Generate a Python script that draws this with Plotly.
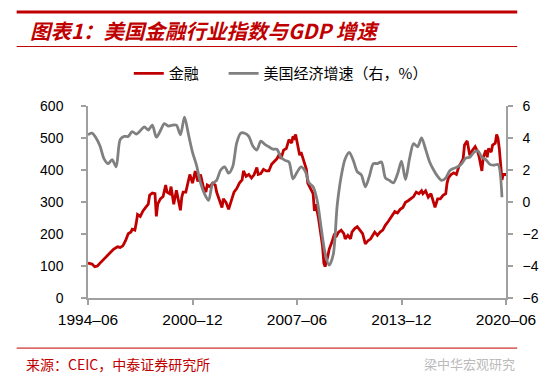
import plotly.graph_objects as go

# ---------------- data ----------------
FIN_DATES = [
    "1994-06","1994-09","1994-11","1995-01","1995-03","1995-06","1995-08","1995-11",
    "1996-01","1996-04","1996-06","1996-08","1996-10","1996-12","1997-02","1997-03",
    "1997-05","1997-06","1997-07","1997-09","1997-11","1998-01","1998-03","1998-04",
    "1998-06","1998-08","1998-09","1998-10","1998-12","1999-02","1999-04","1999-05",
    "1999-07","1999-08","1999-10","1999-12","2000-01","2000-03","2000-04","2000-05",
    "2000-07","2000-09","2000-10","2000-12","2001-02","2001-04","2001-06","2001-08",
    "2001-10","2001-11","2002-01","2002-03","2002-05","2002-06","2002-08","2002-10",
    "2002-11","2003-01","2003-03","2003-05","2003-07","2003-09","2003-11","2004-01",
    "2004-02","2004-04","2004-06","2004-08","2004-10","2004-12","2005-01","2005-03",
    "2005-05","2005-07","2005-09","2005-11","2006-01","2006-03","2006-05","2006-06",
    "2006-08","2006-10","2006-12","2007-02","2007-03","2007-04","2007-05","2007-06",
    "2007-08","2007-09","2007-11","2008-01","2008-02","2008-04","2008-06","2008-07",
    "2008-08","2008-10","2008-12","2009-01","2009-02","2009-03","2009-05","2009-06",
    "2009-08","2009-10","2009-11","2010-01","2010-03","2010-05","2010-06","2010-08",
    "2010-10","2010-11","2011-01","2011-03","2011-05","2011-07","2011-09","2011-11",
    "2012-01","2012-03","2012-04","2012-06","2012-08","2012-10","2012-12","2013-02",
    "2013-03","2013-05","2013-07","2013-09","2013-11","2014-01","2014-03","2014-05",
    "2014-07","2014-09","2014-11","2015-01","2015-03","2015-04","2015-06","2015-08",
    "2015-10","2015-11","2016-01","2016-03","2016-05","2016-07","2016-09","2016-10",
    "2016-11","2017-01","2017-03","2017-05","2017-07","2017-08","2017-10","2017-11",
    "2018-01","2018-02","2018-03","2018-05","2018-07","2018-09","2018-10","2018-12",
    "2019-01","2019-03","2019-04","2019-05","2019-07","2019-08","2019-10","2019-11",
    "2019-12","2020-01","2020-02","2020-03","2020-04","2020-06",
]
FIN_VALUES = [
    109,106,98,100,109,122,133,144,
    152,160,158,163,179,201,206,215,
    212,234,261,255,272,283,293,321,
    328,326,255,293,310,317,353,331,
    326,348,293,337,315,274,315,331,
    331,375,386,359,397,364,386,348,
    331,353,348,359,353,331,304,283,
    310,299,277,304,331,342,359,369,
    397,380,386,375,386,408,386,389,
    402,397,397,418,426,435,451,435,
    462,467,495,484,505,500,511,489,
    446,456,429,402,359,342,326,272,
    293,250,185,163,109,98,130,152,
    174,201,190,206,212,201,185,196,
    185,206,217,223,212,201,169,179,
    185,201,206,196,206,212,228,239,
    245,261,270,266,277,283,299,304,
    310,317,331,326,335,326,335,315,
    326,310,283,310,310,321,326,359,
    375,386,391,386,413,418,435,478,
    491,467,446,462,473,456,440,397,
    440,462,440,467,456,478,484,511,
    500,467,418,369,386,386,
]

GDP_DATES = [
    "1994-06","1994-09","1994-12","1995-03","1995-06","1995-09","1995-12","1996-03",
    "1996-06","1996-09","1996-12","1997-03","1997-06","1997-09","1997-12","1998-03",
    "1998-06","1998-09","1998-12","1999-03","1999-06","1999-09","1999-12","2000-03",
    "2000-06","2000-09","2000-12","2001-03","2001-06","2001-09","2001-12","2002-03",
    "2002-06","2002-09","2002-12","2003-03","2003-06","2003-09","2003-12","2004-03",
    "2004-06","2004-09","2004-12","2005-03","2005-06","2005-09","2005-12","2006-03",
    "2006-06","2006-09","2006-12","2007-03","2007-06","2007-09","2007-12","2008-03",
    "2008-06","2008-09","2008-12","2009-03","2009-06","2009-09","2009-12","2010-03",
    "2010-06","2010-09","2010-12","2011-03","2011-06","2011-09","2011-12","2012-03",
    "2012-06","2012-09","2012-12","2013-03","2013-06","2013-09","2013-12","2014-03",
    "2014-06","2014-09","2014-12","2015-03","2015-06","2015-09","2015-12","2016-03",
    "2016-06","2016-09","2016-12","2017-03","2017-06","2017-09","2017-12","2018-03",
    "2018-06","2018-09","2018-12","2019-03","2019-06","2019-09","2019-12","2020-03",
]
GDP_VALUES = [
    4.2,4.3,4.0,3.5,2.7,2.4,2.65,2.2,
    3.9,4.1,4.1,4.4,4.25,4.45,4.7,4.5,
    4.8,4.05,4.45,4.9,4.75,4.8,4.8,4.2,
    5.3,4.2,3.1,2.3,1.2,0.5,0.1,1.15,
    1.35,2.0,2.2,1.8,2.2,3.7,4.3,4.3,
    4.1,3.5,3.25,3.8,3.6,3.45,3.3,3.3,
    2.8,2.6,2.5,1.45,1.85,2.2,1.95,1.2,
    0.95,0.1,-1.6,-3.2,-3.95,-3.3,-0.2,1.6,
    2.7,3.1,2.6,1.9,1.7,0.95,1.6,2.4,
    2.4,2.5,1.5,1.35,1.2,1.75,2.55,1.4,
    2.7,3.65,3.45,4.0,3.3,2.5,2.0,1.6,
    1.35,1.5,1.95,2.1,2.2,2.4,2.75,2.8,
    3.1,3.2,2.8,2.65,2.35,2.3,2.35,0.3,
]

TICK_DATES = ["1994-06-01", "2000-12-01", "2007-06-01", "2013-12-01", "2020-06-01"]
TICK_LABELS = ["1994–06", "2000–12", "2007–06", "2013–12", "2020–06"]
LEFT_TICKS = [0, 100, 200, 300, 400, 500, 600]
RIGHT_TICKS = [-6, -4, -2, 0, 2, 4, 6]

NAME_FIN = "金融"
NAME_GDP = "美国经济增速（右，%）"
TITLE = "图表1：美国金融行业指数与GDP 增速"
SOURCE = "来源：CEIC，中泰证券研究所"
WATERMARK = "梁中华宏观研究"

RED = "#C00000"
GRAY = "#808080"
AXIS = "#A0A0A0"

fig = go.Figure()
fig.add_trace(go.Scatter(
    x=FIN_DATES, y=FIN_VALUES, name=NAME_FIN, mode="lines",
    line=dict(color=RED, width=2.8), yaxis="y", legend="legend"))
fig.add_trace(go.Scatter(
    x=GDP_DATES, y=GDP_VALUES, name=NAME_GDP, mode="lines",
    line=dict(color=GRAY, width=2.8, shape="spline", smoothing=0.8), yaxis="y2",
    legend="legend2"))

y_font = dict(family="Liberation Sans, Arial, sans-serif", size=14, color="#000000")
x_font = dict(family="Liberation Sans, Arial, sans-serif", size=15.5, color="#000000")
legend_font = dict(family="Noto Sans CJK SC", size=15, color="#000000")

common_axis = dict(showline=True, linecolor=AXIS, linewidth=1.5,
                   ticks="outside", ticklen=5, tickcolor=AXIS, tickwidth=1.5,
                   showgrid=False, zeroline=False, automargin=False)

# the page body has an 8px margin, so the figure is 8px smaller than the window
fig.update_layout(
    width=542, height=373,
    margin=dict(l=80, r=44, t=98, b=83, autoexpand=False),
    paper_bgcolor="white", plot_bgcolor="white",
    showlegend=True,
    legend=dict(orientation="h", xref="paper", yref="paper",
                x=0.0976, xanchor="left", y=1.1685, yanchor="middle",
                font=legend_font, itemwidth=30, bgcolor="rgba(0,0,0,0)"),
    legend2=dict(orientation="h", xref="paper", yref="paper",
                 x=0.3244, xanchor="left", y=1.1685, yanchor="middle",
                 font=legend_font, itemwidth=30, bgcolor="rgba(0,0,0,0)"),
    xaxis=dict(type="date", range=["1994-06-01", "2020-06-01"],
               tickmode="array", tickvals=TICK_DATES, ticktext=TICK_LABELS,
               tickfont=x_font, ticklabelstandoff=2, **common_axis),
    yaxis=dict(range=[0, 600], tickmode="array", tickvals=LEFT_TICKS,
               tickfont=y_font, ticklabelstandoff=15, **common_axis),
    yaxis2=dict(range=[-6, 6], tickmode="array", tickvals=RIGHT_TICKS,
                overlaying="y", side="right",
                tickfont=y_font, ticklabelstandoff=7, **common_axis),
)

# header / footer rules
fig.add_shape(type="line", xref="paper", yref="paper", x0=-0.1707, x1=1.0268,
              y0=1.489, y1=1.489, line=dict(color=RED, width=3))
fig.add_shape(type="line", xref="paper", yref="paper", x0=-0.1707, x1=1.0268,
              y0=1.3098, y1=1.3098, line=dict(color=RED, width=1))
fig.add_shape(type="line", xref="paper", yref="paper", x0=-0.1707, x1=1.0268,
              y0=-0.2609, y1=-0.2609, line=dict(color=RED, width=1))

fig.add_annotation(text=TITLE, xref="paper", yref="paper", x=-0.1439, y=1.3967,
                   xanchor="left", yanchor="middle", showarrow=False,
                   font=dict(family="Noto Sans CJK SC", size=20.5, color=RED,
                             weight="bold", style="italic"))
fig.add_annotation(text=SOURCE, xref="paper", yref="paper", x=-0.153, y=-0.3424,
                   xanchor="left", yanchor="middle", showarrow=False,
                   font=dict(family="Noto Sans CJK SC", size=14, color=RED))
fig.add_annotation(text=WATERMARK, xref="paper", yref="paper", x=0.80, y=-0.3424,
                   xanchor="left", yanchor="middle", showarrow=False,
                   font=dict(family="Noto Sans CJK SC", size=13, color="#BBBBBB"))

fig.write_html("out.html")
